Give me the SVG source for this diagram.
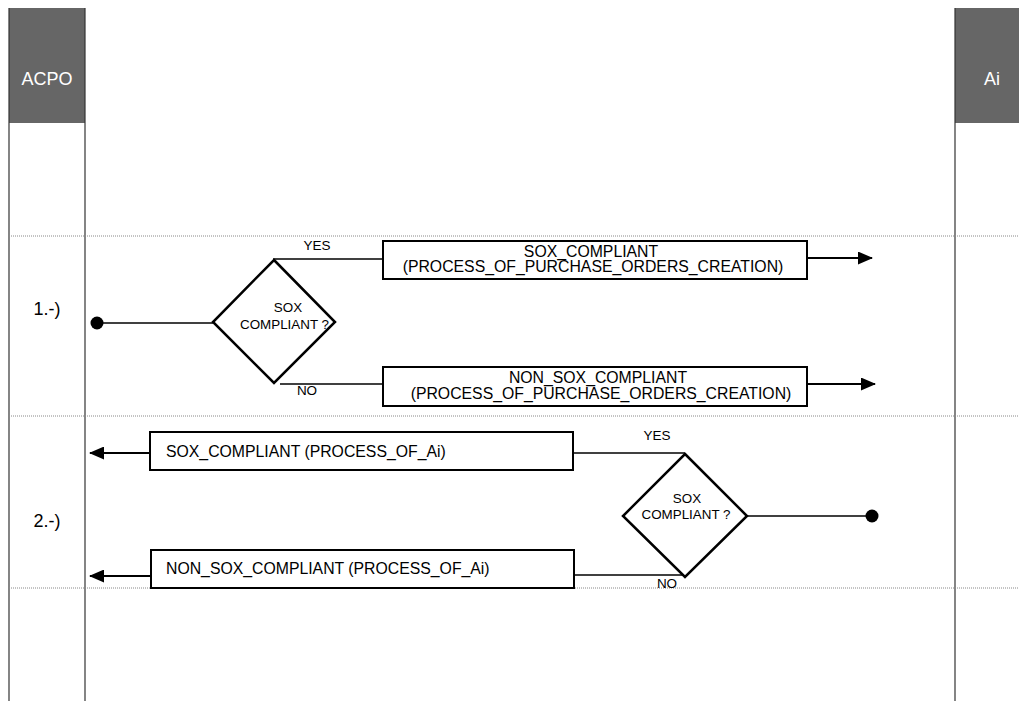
<svg xmlns="http://www.w3.org/2000/svg" width="1019" height="701" viewBox="0 0 1019 701">
<style>
text{font-family:"Liberation Sans",Arial,sans-serif;fill:#000}
.hdr{fill:#666666}
.htxt{fill:#ffffff;font-size:18px}
.lane{stroke:#333;stroke-width:1.2;fill:none}
.sep{stroke:#888;stroke-width:1;stroke-dasharray:1 1;fill:none}
.box{fill:#fff;stroke:#000;stroke-width:2}
.dia{fill:#fff;stroke:#000;stroke-width:2.5}
.con{stroke:#000;stroke-width:1.6;fill:none}
.bt{font-size:15.8px}
.dt{font-size:13.4px}
.lbl{font-size:13.5px}
.row{font-size:18px}
</style>
<defs>
<marker id="arr" markerWidth="15" markerHeight="13" refX="14" refY="6.5" orient="auto" markerUnits="userSpaceOnUse" viewBox="0 0 15 13">
<path d="M0,0 L15,6.5 L0,13 z" fill="#000"/>
</marker>
</defs>
<rect width="1019" height="701" fill="#fff"/>
<g id="lanes">
<rect class="hdr" x="9" y="8" width="76" height="115"/>
<rect class="hdr" x="955" y="8" width="64" height="115"/>
<line class="lane" x1="9" y1="8" x2="9" y2="701"/>
<line class="lane" x1="85" y1="8" x2="85" y2="701"/>
<line class="lane" x1="955" y1="8" x2="955" y2="701"/>
<line class="sep" x1="9" y1="236" x2="1019" y2="236"/>
<line class="sep" x1="9" y1="416" x2="1019" y2="416"/>
<line class="sep" x1="9" y1="588" x2="1019" y2="588"/>
<text class="htxt" x="47" y="85" text-anchor="middle">ACPO</text>
<text class="htxt" x="992" y="85" text-anchor="middle">Ai</text>
<text class="row" x="47" y="315" text-anchor="middle">1.-)</text>
<text class="row" x="47" y="527" text-anchor="middle">2.-)</text>
</g>
<g id="connectors">
<line class="con" x1="97" y1="323" x2="213" y2="323"/>
<line class="con" x1="273" y1="259" x2="383" y2="259"/>
<line class="con" x1="280" y1="384" x2="383" y2="384"/>
<line class="con" x1="807" y1="258" x2="872" y2="258" marker-end="url(#arr)" style="stroke-width:1.8"/>
<line class="con" x1="807" y1="384" x2="875" y2="384" marker-end="url(#arr)" style="stroke-width:1.8"/>
<line class="con" x1="150" y1="453" x2="90" y2="453" marker-end="url(#arr)" style="stroke-width:1.8"/>
<line class="con" x1="151" y1="576" x2="90" y2="576" marker-end="url(#arr)" style="stroke-width:1.8"/>
<line class="con" x1="573" y1="453" x2="685" y2="453"/>
<line class="con" x1="574" y1="575" x2="682" y2="575"/>
<line class="con" x1="747" y1="516" x2="872" y2="516"/>
<text class="lbl" x="317" y="250" text-anchor="middle">YES</text>
<text class="lbl" x="307" y="395" text-anchor="middle">NO</text>
<text class="lbl" x="657" y="440" text-anchor="middle">YES</text>
<text class="lbl" x="667" y="588" text-anchor="middle">NO</text>
</g>
<g id="start1"><circle cx="97" cy="323" r="6.5" fill="#000"/></g>
<g id="start2"><circle cx="872" cy="516" r="6.5" fill="#000"/></g>
<g id="decision1">
<polygon class="dia" points="274,260 335,322 274,383 213,322"/>
<text class="dt" x="288" y="312" text-anchor="middle">SOX</text>
<text class="dt" x="240" y="329">COMPLIANT ?</text>
</g>
<g id="decision2">
<polygon class="dia" points="685,454 747,516 685,577 623,516"/>
<text class="dt" x="687" y="503" text-anchor="middle">SOX</text>
<text class="dt" x="686" y="519" text-anchor="middle">COMPLIANT ?</text>
</g>
<g id="box1">
<rect class="box" x="383" y="241" width="424" height="38"/>
<text class="bt" x="591" y="257" text-anchor="middle">SOX_COMPLIANT</text>
<text class="bt" x="593" y="272" text-anchor="middle">(PROCESS_OF_PURCHASE_ORDERS_CREATION)</text>
</g>
<g id="box2">
<rect class="box" x="383" y="367" width="424" height="39"/>
<text class="bt" x="598" y="383" text-anchor="middle">NON_SOX_COMPLIANT</text>
<text class="bt" x="601" y="399" text-anchor="middle">(PROCESS_OF_PURCHASE_ORDERS_CREATION)</text>
</g>
<g id="box3">
<rect class="box" x="150" y="432" width="423" height="38"/>
<text class="bt" x="166" y="457">SOX_COMPLIANT (PROCESS_OF_Ai)</text>
</g>
<g id="box4">
<rect class="box" x="151" y="550" width="423" height="38"/>
<text class="bt" x="166" y="574">NON_SOX_COMPLIANT (PROCESS_OF_Ai)</text>
</g>
</svg>
